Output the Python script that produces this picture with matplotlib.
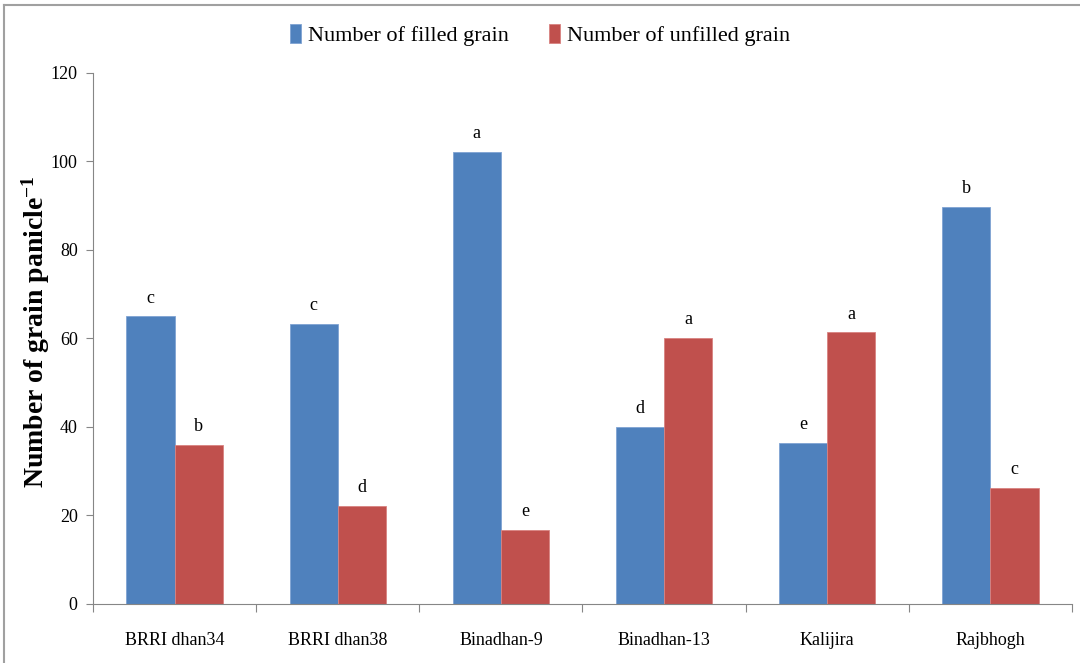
import numpy as np
import matplotlib.pyplot as plt
from matplotlib.lines import Line2D

varieties = ["BRRI dhan34", "BRRI dhan38", "Binadhan-9", "Binadhan-13", "Kalijira", "Rajbhogh"]
filled = [65.0, 63.3, 102.1, 40.0, 36.4, 89.7]
unfilled = [35.9, 22.1, 16.7, 60.1, 61.4, 26.2]
filled_letters = ["c", "c", "a", "d", "e", "b"]
unfilled_letters = ["b", "d", "e", "a", "a", "c"]

plt.rcParams["font.family"] = ["Liberation Serif", "DejaVu Serif"]
plt.rcParams["mathtext.default"] = "regular"

blue = "#4F81BD"
red = "#C0504D"
axis_grey = "#868686"

fig = plt.figure(figsize=(10.8, 6.63), dpi=100)
ax = fig.add_axes([0.0861, 0.089, 0.9065, 0.801])

x = np.arange(len(varieties))
w = 0.295
b1 = ax.bar(x - w / 2, filled, w, color=blue, edgecolor="#7FA3D3", linewidth=0.6,
            label="Number of filled grain")
b2 = ax.bar(x + w / 2, unfilled, w, color=red, edgecolor="#D88381", linewidth=0.6,
            label="Number of unfilled grain")

for xi, v, s in zip(x - w / 2, filled, filled_letters):
    ax.annotate(s, (xi, v), xytext=(0, 7), textcoords="offset points",
                ha="center", va="bottom", fontsize=13)
for xi, v, s in zip(x + w / 2, unfilled, unfilled_letters):
    ax.annotate(s, (xi, v), xytext=(0, 7), textcoords="offset points",
                ha="center", va="bottom", fontsize=13)

ax.set_xlim(-0.5, len(varieties) - 0.5)
ax.set_ylim(0, 120)
ax.set_yticks(np.arange(0, 121, 20))
ax.tick_params(axis="y", labelsize=13, color=axis_grey, length=5, width=0.8, pad=6)

# category names centred, tick marks on the group boundaries
ax.set_xticks(x)
ax.set_xticklabels(varieties, fontsize=13)
ax.tick_params(axis="x", which="major", length=0, pad=20)
ax.set_xticks(np.arange(-0.5, len(varieties)), minor=True)
ax.tick_params(axis="x", which="minor", length=6, color=axis_grey, width=0.8)

for side in ["top", "right"]:
    ax.spines[side].set_visible(False)
for side in ["left", "bottom"]:
    ax.spines[side].set_color(axis_grey)
    ax.spines[side].set_linewidth(0.8)

fig.text(0.033, 0.50, "Number of grain panicle$^{-1}$", rotation=90,
         fontsize=20, fontweight="bold", ha="center", va="center")

fig.legend(handles=[b1, b2], loc="center", bbox_to_anchor=(0.5, 0.947), ncol=2,
           frameon=False, fontsize=16, handlelength=0.5, handleheight=0.9,
           handletextpad=0.3, columnspacing=1.8)

# frame lines along the top and left edges of the figure
fig.add_artist(Line2D([0.0037, 1.0], [0.993, 0.993], color="#A0A0A0", lw=1.5,
                      transform=fig.transFigure))
fig.add_artist(Line2D([0.0037, 0.0037], [0.0, 0.993], color="#A0A0A0", lw=1.5,
                      transform=fig.transFigure))

fig.savefig("out.png", dpi=100)
